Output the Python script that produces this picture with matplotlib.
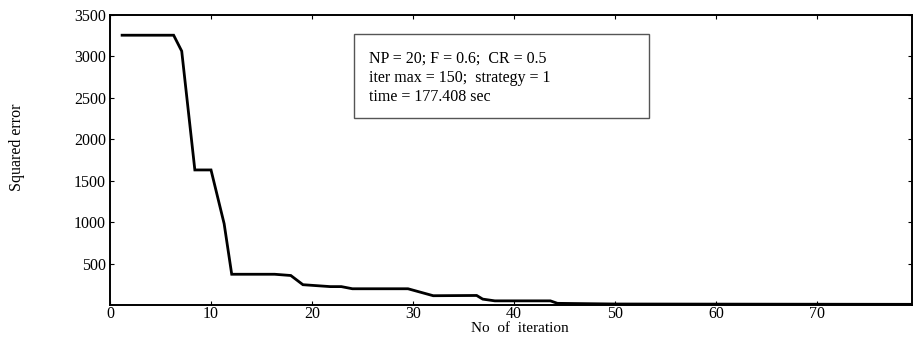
import matplotlib
matplotlib.use("Agg")
import matplotlib.pyplot as plt
from matplotlib.patches import Rectangle

# Data (iteration, squared error)
iteration = [1.2, 6.3, 7.1, 8.4, 10.0, 11.3, 12.05, 16.3, 17.9, 19.1, 21.8, 22.9,
             24.0, 29.5, 32.0, 36.3, 36.9, 38.1, 43.6, 44.3, 50.0, 79.4]
sq_error = [3256, 3256, 3064, 1630, 1630, 981, 371, 371, 356, 245, 222, 222,
            196, 196, 112, 115, 71, 50, 50, 20, 12, 8]

x_ticks = [0, 10, 20, 30, 40, 50, 60, 70]
y_ticks = [500, 1000, 1500, 2000, 2500, 3000, 3500]
info_lines = ["NP = 20; F = 0.6;  CR = 0.5",
              "iter max = 150;  strategy = 1",
              "time = 177.408 sec"]

plt.rcParams['font.family'] = ['Liberation Serif', 'DejaVu Serif']
fs = 11.5

W, H = 913, 339
fig = plt.figure(figsize=(W / 100, H / 100), dpi=100)
ax = fig.add_axes([110 / W, 1 - 305 / H, (912 - 110) / W, (305 - 15) / H])

ax.plot(iteration, sq_error, color='black', linewidth=2.0, solid_joinstyle='miter')

ax.set_xlim(0, 79.4)
ax.set_ylim(0, 3500)
ax.set_xticks(x_ticks)
ax.set_yticks(y_ticks)
ax.tick_params(direction='in', length=3, width=0.8, top=True, right=True,
               labelsize=fs, pad=3, colors='black')
ax.tick_params(axis='x', pad=1)
for s in ax.spines.values():
    s.set_linewidth(1.4)
    s.set_color('black')

ax.set_xlabel("No  of  iteration", fontsize=11)
ax.xaxis.set_label_coords((520 - 110) / 802, (305 - 322) / 290)
ax.set_ylabel("Squared error", fontsize=fs)
ax.yaxis.set_label_coords((25 - 110) / 802, (305 - 147) / 290)

# annotation box
x0 = (354 - 110) / 802
x1 = (649 - 110) / 802
y1 = (305 - 34) / 290
y0 = (305 - 118) / 290
ax.add_patch(Rectangle((x0, y0), x1 - x0, y1 - y0, transform=ax.transAxes,
                       facecolor='white', edgecolor='#555555', linewidth=1.0,
                       zorder=3))
for line, yc in zip(info_lines, [59, 78, 97]):
    ax.text((369 - 110) / 802, (305 - yc) / 290, line, transform=ax.transAxes,
            fontsize=fs, va='center', ha='left', zorder=4)

fig.savefig("out.png", dpi=100)
